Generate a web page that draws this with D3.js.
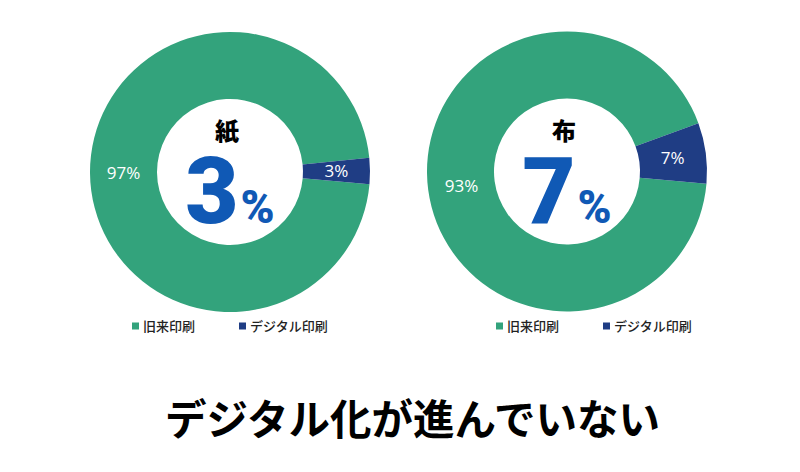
<!DOCTYPE html>
<html><head><meta charset="utf-8">
<script src="https://cdn.jsdelivr.net/npm/d3@7"></script>
<style>body{margin:0;background:#fff}svg{display:block}</style>
</head><body>
<script>
const categories = ["旧来印刷", "デジタル印刷"];
const materials = ["紙", "布"];
const paperValues = [97, 3];
const clothValues = [93, 7];
const highlight = ["3", "7"];
const title = "デジタル化が進んでいない";

const W = 800, H = 472;
const colors = ["#33a37c", "#1f3d84"];
const svg = d3.select("body").append("svg").attr("width", W).attr("height", H);

const jp = "'Noto Sans CJK JP', 'Noto Sans', sans-serif";
const charts = [
  {cx: 230, cy: 172, values: paperValues, mat: materials[0], big: highlight[0], legendX: 132},
  {cx: 567, cy: 171.5, values: clothValues, mat: materials[1], big: highlight[1], legendX: 496}
];
const start = 95 * Math.PI / 180;
const pie = d3.pie().sort(null).startAngle(start).endAngle(start + 2 * Math.PI);
const arc = d3.arc().innerRadius(73).outerRadius(140);

charts.forEach(c => {
  const g = svg.append("g").attr("transform", `translate(${c.cx},${c.cy})`);
  const arcs = pie(c.values);
  g.selectAll("path").data(arcs).join("path")
    .attr("d", arc).attr("fill", (d, i) => colors[i]);
  g.selectAll("text.lbl").data(arcs).join("text").attr("class", "lbl")
    .attr("transform", d => `translate(${arc.centroid(d)})`)
    .attr("text-anchor", "middle").attr("dy", "0.36em")
    .attr("fill", "#fff").attr("font-family", "'Open Sans', 'Noto Sans', sans-serif")
    .attr("font-size", 17).text(d => d.data + "%");
  g.append("text").attr("x", -3).attr("y", -32).attr("text-anchor", "middle")
    .attr("font-family", jp).attr("font-weight", 900).attr("font-size", 24)
    .attr("fill", "#000").text(c.mat);
  const t = g.append("text").attr("y", 51).attr("text-anchor", "middle")
    .attr("font-family", "Roboto, 'Open Sans', sans-serif").attr("font-weight", 900)
    .attr("fill", "#1059b5");
  t.append("tspan").attr("font-size", 92).text(c.big);
  t.append("tspan").attr("font-size", 46).attr("dx", 2).text("%");
  // legend
  const lg = svg.append("g").attr("transform", `translate(${c.legendX},${326})`);
  const offs = [0, 107];
  categories.forEach((cat, i) => {
    lg.append("rect").attr("x", offs[i]).attr("y", -3.5).attr("width", 7).attr("height", 7).attr("fill", colors[i]);
    lg.append("text").attr("x", offs[i] + 11).attr("y", 0).attr("dy", "0.36em")
      .attr("font-family", jp).attr("font-weight", 500).attr("font-size", 13).attr("fill", "#222").text(cat);
  });
});

svg.append("text").attr("x", 412.5).attr("y", 435).attr("text-anchor", "middle")
  .attr("font-family", jp).attr("font-weight", 700).attr("font-size", 41.5)
  .attr("fill", "#000").text(title);
</script>
</body></html>
